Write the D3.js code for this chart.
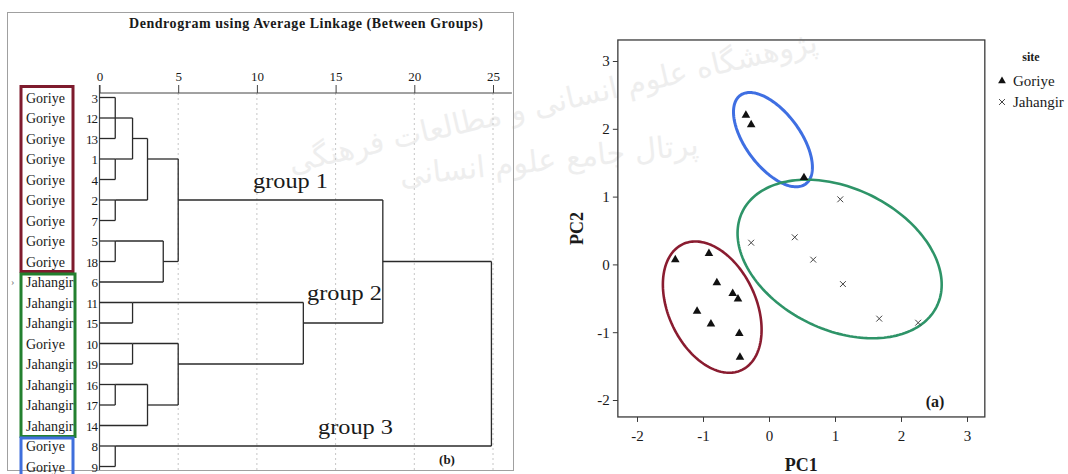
<!DOCTYPE html>
<html><head><meta charset="utf-8">
<script src="https://cdn.jsdelivr.net/npm/d3@7"></script>
<style>
body{margin:0;background:#fff}
svg{display:block}
text{font-family:"Liberation Serif","Times New Roman",serif;fill:#1a1a1a}
</style>
</head><body>
<svg id="c" width="1068" height="474"></svg>
<script>
// ---------------- DATA ----------------
// Dendrogram (b)
const leafCases = [3,12,13,1,4,2,7,5,18,6,11,15,10,19,16,17,14,8,9];
const leafSites = ["Goriye","Goriye","Goriye","Goriye","Goriye","Goriye","Goriye","Goriye","Goriye",
                   "Jahangir","Jahangir","Jahangir","Goriye","Jahangir","Jahangir","Jahangir","Jahangir","Goriye","Goriye"];
const mergeIds       = ["c1","c2","c3","c4","c5","c6","c7","c8","c9","c10","c11","c12","c13","c14","c15","c16","c17"];
const mergeMembers   = [[3,12,13],[1,4],[2,7],[5,18],[16,17],[8,9],["c1","c2"],[11,15],[10,19],
                        ["c7","c3"],["c4",6],["c5",14],["c10","c11"],["c9","c12"],["c8","c14"],["c13","c15"],["c16","c6"]];
const mergeDistances = [1.0,1.0,1.0,1.0,1.0,1.0,2.1,2.1,2.1,3.05,4.05,3.05,5.0,5.0,12.95,18.0,24.9];
const distanceTicks  = [0,5,10,15,20,25];
const groupNames     = ["group 1","group 2","group 3"];
const groupFirstRow  = [0,9,17];
const groupLastRow   = [8,16,18];
const groupColors    = ["#7e1b2d","#23802f","#3f6fdc"];

// PCA scatter (a)
const pcTicks     = [-2,-1,0,1,2,3];
const goriyePC1   = [-1.42,-0.91,-0.79,-0.55,-0.47,-1.09,-0.88,-0.45,-0.44,-0.35,-0.27,0.53];
const goriyePC2   = [0.07,0.16,-0.27,-0.43,-0.51,-0.69,-0.88,-1.02,-1.37,2.20,2.06,1.28];
const jahangirPC1 = [-0.27,0.39,1.08,0.67,1.12,1.67,2.26];
const jahangirPC2 = [0.32,0.40,0.96,0.07,-0.29,-0.80,-0.86];
const ellipseCx    = [-0.86,0.06,1.07];
const ellipseCy    = [-0.63,1.84,0.08];
const ellipseA     = [1.03,0.82,1.63];
const ellipseB     = [0.66,0.41,1.05];
const ellipseAngle = [-63.6,-52.2,-24.4];
const ellipseColors = ["#8a1c30","#3f6fe2","#2e9468"];
const siteNames = ["Goriye","Jahangir"];
const watermarkLines = ["پژوهشگاه علوم انسانی و مطالعات فرهنگی","پرتال جامع علوم انسانی"];

// ---------------- DRAW ----------------
const svg = d3.select("#c");

// faint background watermark
const wmX = [555,550], wmY = [112,170], wmRot = [-13,-6], wmSize = [30,30];
svg.append("g").attr("class","watermark").selectAll("text").data(watermarkLines).join("text")
  .attr("x",(d,i)=>wmX[i]).attr("y",(d,i)=>wmY[i])
  .attr("transform",(d,i)=>`rotate(${wmRot[i]},${wmX[i]},${wmY[i]})`)
  .attr("text-anchor","middle").attr("font-size",(d,i)=>wmSize[i])
  .style("font-family","DejaVu Sans").style("fill","#eeeeee").text(d=>d);

// ===== Left: dendrogram =====
const dx = d3.scaleLinear().domain([0,25]).range([99.5,493]);
const dy = d3.scaleLinear().domain([0,18]).range([97.5,466.5]);
const axisY = 93, plotBottom = 470;

svg.append("rect").attr("x",7.5).attr("y",12.5).attr("width",506).attr("height",458)
  .attr("fill","none").attr("stroke","#a0a0a0");

svg.append("text").attr("x",306).attr("y",28).attr("text-anchor","middle")
  .attr("font-weight","bold").attr("font-size",14).attr("textLength",354)
  .text("Dendrogram using Average Linkage (Between Groups)");

// dotted grid
svg.append("g").selectAll("line").data(distanceTicks.filter(t=>t>0)).join("line")
  .attr("x1",d=>dx(d)).attr("x2",d=>dx(d)).attr("y1",axisY).attr("y2",plotBottom)
  .attr("stroke","#c6c6c6").attr("stroke-dasharray","2,3");
svg.append("line").attr("x1",dx(0)).attr("x2",dx(0)).attr("y1",axisY-8).attr("y2",plotBottom)
  .attr("stroke","#444").attr("stroke-width",1.2);

// axis
const ax = svg.append("g").attr("transform",`translate(0,${axisY})`)
  .call(d3.axisTop(dx).tickValues(distanceTicks).tickSize(8).tickSizeOuter(0).tickPadding(4));
ax.select(".domain").remove();
ax.selectAll("line").attr("stroke","#444");
ax.selectAll("text").attr("font-size",13).style("font-family","Liberation Serif").attr("fill","#1a1a1a");
svg.append("line").attr("x1",dx(0)).attr("x2",dx(26.2)).attr("y1",axisY).attr("y2",axisY).attr("stroke","#444");

// merges
const nodeRow = {}, nodeH = {};
const key = m => typeof m === "number" ? "L"+m : m;
leafCases.forEach((c,i)=>{nodeRow["L"+c]=i; nodeH["L"+c]=0;});
const dg = svg.append("g").attr("stroke","#2a2a2a").attr("stroke-width",1.3).attr("fill","none");
mergeIds.forEach((id,k)=>{
  const h = mergeDistances[k];
  const rows = mergeMembers[k].map(m=>nodeRow[key(m)]);
  mergeMembers[k].forEach(m=>{
    const r = nodeRow[key(m)];
    dg.append("line").attr("x1",dx(nodeH[key(m)])).attr("x2",dx(h)).attr("y1",dy(r)).attr("y2",dy(r));
  });
  const r0 = d3.min(rows), r1 = d3.max(rows);
  dg.append("line").attr("x1",dx(h)).attr("x2",dx(h)).attr("y1",dy(r0)).attr("y2",dy(r1));
  nodeRow[id] = Math.floor((r0+r1)/2);
  nodeH[id] = h;
});

// group boxes
const boxTopOff = [-11,-8,-8], boxBotOff = [10,11,14], boxRight = [73,75,73];
svg.append("g").selectAll("rect").data(groupNames).join("rect")
  .attr("x",21).attr("width",(d,i)=>boxRight[i]-21)
  .attr("y",(d,i)=>dy(groupFirstRow[i])+boxTopOff[i])
  .attr("height",(d,i)=>dy(groupLastRow[i])+boxBotOff[i]-(dy(groupFirstRow[i])+boxTopOff[i]))
  .attr("fill","none").attr("stroke",(d,i)=>groupColors[i]).attr("stroke-width",3);

// leaf labels
svg.append("g").attr("class","leafnum").selectAll("text").data(leafCases).join("text")
  .attr("x",97).attr("y",(d,i)=>dy(i)+5).attr("text-anchor","end").attr("font-size",13)
  .attr("letter-spacing",-1).text(d=>d);
svg.append("g").attr("class","leafsite").selectAll("text").data(leafSites).join("text")
  .attr("x",26).attr("y",(d,i)=>dy(i)+5).attr("font-size",14).text(d=>d);
svg.append("text").attr("x",11).attr("y",dy(9)+3).attr("font-size",10).style("fill","#777").text("›");

// group labels
const glx = [253,307,318], gly = [188,300,434];
svg.append("g").selectAll("text").data(groupNames).join("text")
  .attr("x",(d,i)=>glx[i]).attr("y",(d,i)=>gly[i]).attr("font-size",20)
  .attr("textLength",75).attr("lengthAdjust","spacingAndGlyphs").text(d=>d);
svg.append("text").attr("x",447).attr("y",464).attr("text-anchor","middle")
  .attr("font-weight","bold").attr("font-size",13).text("(b)");

// ===== Right: PCA scatter =====
const sx = d3.scaleLinear().domain([-2,3]).range([637,967]);
const sy = d3.scaleLinear().domain([-2,3]).range([400,61]);
const fx0 = sx(-2.29), fx1 = sx(3.27), fy0 = sy(3.31), fy1 = sy(-2.25);

svg.append("rect").attr("x",fx0).attr("y",fy0).attr("width",fx1-fx0).attr("height",fy1-fy0)
  .attr("fill","none").attr("stroke","#3a3a3a").attr("stroke-width",1.3);

const yAx = svg.append("g").attr("transform",`translate(${fx0},0)`)
  .call(d3.axisLeft(sy).tickValues(pcTicks).tickSize(5).tickSizeOuter(0).tickPadding(3).tickFormat(d3.format("d")));
const xAx = svg.append("g").attr("transform",`translate(0,${fy1})`)
  .call(d3.axisBottom(sx).tickValues(pcTicks).tickSize(5).tickSizeOuter(0).tickPadding(8).tickFormat(d3.format("d")));
[yAx,xAx].forEach(a=>{
  a.select(".domain").remove();
  a.selectAll("line").attr("stroke","#3a3a3a");
  a.selectAll("text").attr("font-size",15).style("font-family","Liberation Serif").attr("fill","#1a1a1a");
});
xAx.selectAll("text").text(d=>d<0?"-"+Math.abs(d):d);
yAx.selectAll("text").text(d=>d<0?"-"+Math.abs(d):d);

svg.append("text").attr("x",(fx0+fx1)/2).attr("y",471).attr("text-anchor","middle")
  .attr("font-weight","bold").attr("font-size",18).text("PC1");
svg.append("text").attr("transform",`translate(583,${(fy0+fy1)/2}) rotate(-90)`).attr("text-anchor","middle")
  .attr("font-weight","bold").attr("font-size",18).text("PC2");

// ellipses
const line = d3.line().curve(d3.curveLinearClosed);
ellipseCx.forEach((cx,i)=>{
  const phi = ellipseAngle[i]*Math.PI/180;
  const pts = d3.range(0,2*Math.PI,Math.PI/90).map(t=>{
    const ex = ellipseA[i]*Math.cos(t), ey = ellipseB[i]*Math.sin(t);
    return [sx(cx + ex*Math.cos(phi) - ey*Math.sin(phi)), sy(ellipseCy[i] + ex*Math.sin(phi) + ey*Math.cos(phi))];
  });
  svg.append("path").attr("d",line(pts)).attr("fill","none")
    .attr("stroke",ellipseColors[i]).attr("stroke-width",i===1?3:2.6);
});

// points
const tri = d3.symbol(d3.symbolTriangle,32)();
const cross = d3.symbol(d3.symbolTimes,24)();
svg.append("g").selectAll("path").data(goriyePC1).join("path")
  .attr("d",tri).attr("transform",(d,i)=>`translate(${sx(d)},${sy(goriyePC2[i])})`).attr("fill","#111");
svg.append("g").selectAll("path").data(jahangirPC1).join("path")
  .attr("d",cross).attr("transform",(d,i)=>`translate(${sx(d)},${sy(jahangirPC2[i])})`)
  .attr("fill","none").attr("stroke","#444").attr("stroke-width",1);

svg.append("text").attr("x",935).attr("y",407).attr("text-anchor","middle")
  .attr("font-weight","bold").attr("font-size",16).text("(a)");

// legend
svg.append("text").attr("x",1031).attr("y",61).attr("text-anchor","middle")
  .attr("font-weight","bold").attr("font-size",12).text("site");
const lg = svg.append("g").selectAll("g").data(siteNames).join("g")
  .attr("transform",(d,i)=>`translate(1002,${81+i*21})`);
lg.append("path").attr("d",(d,i)=>i===0?d3.symbol(d3.symbolTriangle,26)():d3.symbol(d3.symbolTimes,24)())
  .attr("fill",(d,i)=>i===0?"#111":"none").attr("stroke",(d,i)=>i===0?"none":"#444");
lg.append("text").attr("x",11).attr("y",5).attr("font-size",15).text(d=>d);
</script>
</body></html>
